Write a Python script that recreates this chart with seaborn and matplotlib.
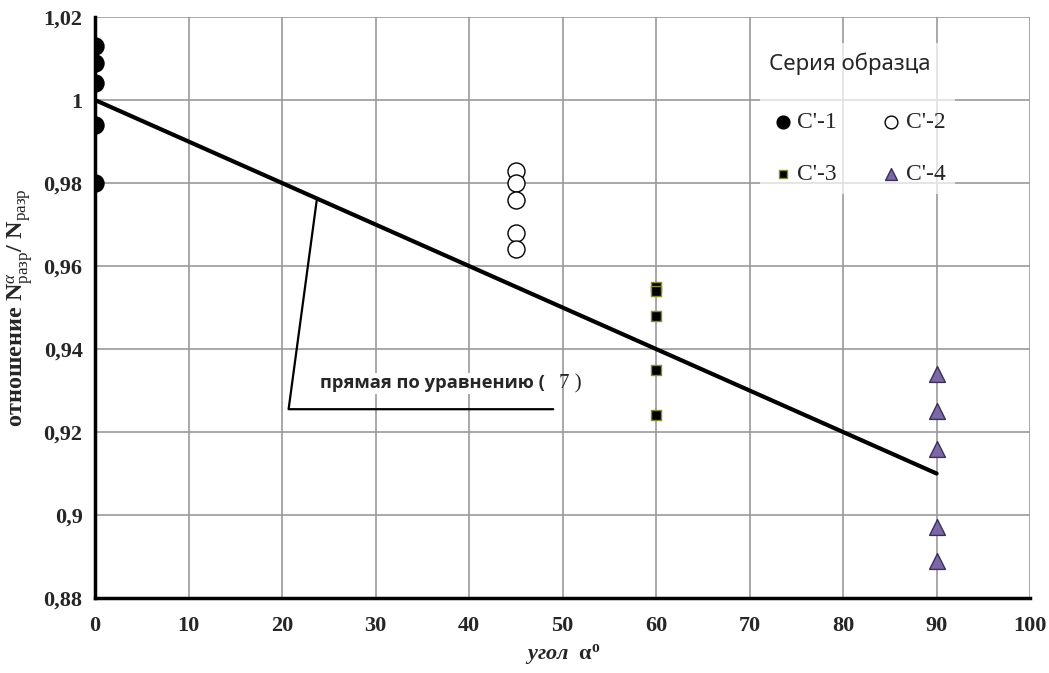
import numpy as np
import pandas as pd
import seaborn as sns
import matplotlib.pyplot as plt
from matplotlib.ticker import FuncFormatter, MultipleLocator

# данные
angle_c1 = [0, 0, 0, 0, 0]
ratio_c1 = [1.013, 1.009, 1.004, 0.994, 0.980]
angle_c2 = [45, 45, 45, 45, 45]
ratio_c2 = [0.983, 0.980, 0.976, 0.968, 0.964]
angle_c3 = [60, 60, 60, 60, 60]
ratio_c3 = [0.955, 0.954, 0.948, 0.935, 0.924]
angle_c4 = [90, 90, 90, 90, 90]
ratio_c4 = [0.934, 0.925, 0.916, 0.897, 0.889]

# прямая по уравнению (7)
line_x = [0, 90]
line_y = [1.0, 0.91]

# выноска подписи
leader_x = [23.7, 20.7, 49.0]
leader_y = [0.9757, 0.9255, 0.9255]

sns.set_style('white')
plt.rcParams['font.family'] = ['Liberation Serif', 'DejaVu Serif']
plt.rcParams['mathtext.fontset'] = 'custom'
plt.rcParams['mathtext.rm'] = 'Liberation Serif'
plt.rcParams['mathtext.it'] = 'Liberation Serif:italic'
plt.rcParams['mathtext.bf'] = 'Liberation Serif:bold'

fig = plt.figure(figsize=(10.49, 6.73), dpi=100)
ax = fig.add_axes([0.0906, 0.1114, 0.8914, 0.8633])

series = [
    ("C'-1", angle_c1, ratio_c1, dict(marker='o', s=150, color='black', edgecolor='black', linewidth=1)),
    ("C'-2", angle_c2, ratio_c2, dict(marker='o', s=150, facecolor='white', edgecolor='black', linewidth=1)),
    ("C'-3", angle_c3, ratio_c3, dict(marker='s', s=50, color='black', edgecolor='#8a8a30', linewidth=1)),
    ("C'-4", angle_c4, ratio_c4, dict(marker='^', s=130, color='#7c68a6', edgecolor='#3a2f55', linewidth=1)),
]

sns.lineplot(x=line_x, y=line_y, color='black', linewidth=3, ax=ax, zorder=3)
ax.plot(leader_x, leader_y, color='black', linewidth=1.6, zorder=3)

for name, xs, ys, kw in series:
    df = pd.DataFrame({'x': xs, 'y': ys})
    sns.scatterplot(data=df, x='x', y='y', ax=ax, zorder=4, label=name, **kw)

ax.text(24.1, 0.9317, 'прямая по уравнению (', family=['Open Sans', 'DejaVu Sans'],
        fontsize=13.2, fontweight='bold', va='center', ha='left', zorder=5,
        bbox=dict(facecolor='white', edgecolor='none', pad=1))
ax.text(49.6, 0.9317, '7 )', fontsize=15, va='center', ha='left', zorder=5)

ax.set_xlim(0, 100)
ax.set_ylim(0.88, 1.02)
ax.xaxis.set_major_locator(MultipleLocator(10))
ax.yaxis.set_major_locator(MultipleLocator(0.02))
ax.yaxis.set_major_formatter(FuncFormatter(lambda v, p: ('%g' % round(v, 2)).replace('.', ',')))
ax.grid(True, color='#9a9a9a', linewidth=1.2)
ax.set_axisbelow(True)

for side in ['top', 'right']:
    ax.spines[side].set_visible(False)
for side in ['left', 'bottom']:
    ax.spines[side].set_color('black')
    ax.spines[side].set_linewidth(2.5)

ax.tick_params(axis='both', which='major', labelsize=16, width=2.5, length=6, color='black', direction='inout')
for lbl in ax.get_xticklabels() + ax.get_yticklabels():
    lbl.set_fontweight('bold')
ax.tick_params(axis='x', pad=10)
ax.tick_params(axis='y', pad=6)

ax.set_xlabel(r'угол  $\mathbf{\alpha}^{\mathbf{o}}$', fontsize=16, fontstyle='italic',
              fontweight='bold', labelpad=4)
ax.set_ylabel(r'отношение N$^{\alpha}_{\mathrm{разр}}$/ N$_{\mathrm{разр}}$', fontsize=17.5,
              fontweight='bold', labelpad=6)

h, l = ax.get_legend_handles_labels()
order = [0, 2, 1, 3]
leg = ax.legend([h[i] for i in order], [l[i] for i in order], ncol=2, loc='upper left',
                title='Серия образца', frameon=True, framealpha=0.7, edgecolor='none',
                prop={'family': 'Liberation Serif', 'size': 17},
                handletextpad=0.0, columnspacing=1.7, labelspacing=1.3,
                markerscale=0.75, handlelength=1.2, bbox_to_anchor=(0.698, 0.975))
leg.get_title().set_family(['Noto Sans', 'DejaVu Sans'])
leg.get_title().set_fontsize(16)
leg._legend_box.align = 'left'
leg._legend_box.sep = 26

fig.savefig('out.png', dpi=100)
